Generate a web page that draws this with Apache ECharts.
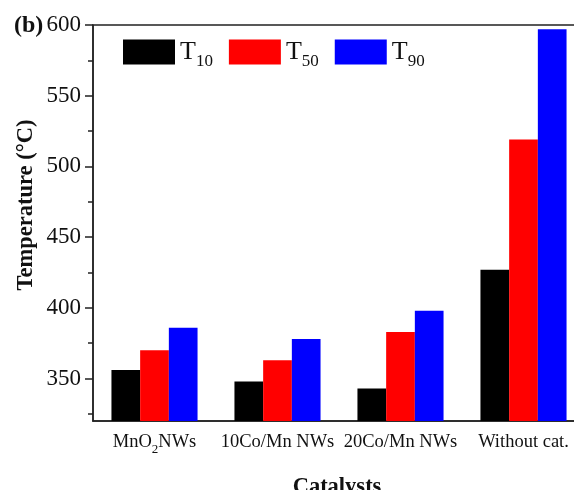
<!DOCTYPE html>
<html><head><meta charset="utf-8">
<script src="https://cdn.jsdelivr.net/npm/echarts@6/dist/echarts.min.js"></script>
<style>html,body{margin:0;padding:0;background:#fff}#c{width:574px;height:490px}</style>
</head><body><div id="c"></div>
<script>
const categories = ['MnO2NWs', '10Co/Mn NWs', '20Co/Mn NWs', 'Without cat.'];
const seriesNames = ['T10', 'T50', 'T90'];
const T10 = [356, 348, 343, 427];
const T50 = [370, 363, 383, 519];
const T90 = [386, 378, 398, 597];
const yLabelValues = [350, 400, 450, 500, 550, 600];
const yMinorValues = [325, 375, 425, 475, 525, 575];
const colors = ['#000000', '#ff0000', '#0000ff'];

const FONT = "'Liberation Serif','Times New Roman',serif";
const chart = echarts.init(document.getElementById('c'));
const seriesData = [T10, T50, T90];

chart.setOption({
  animation: false,
  textStyle: { fontFamily: FONT },
  grid: { left: 93, top: 25, width: 492, bottom: 69, outerBoundsMode: 'none', containLabel: false,
          show: true, borderColor: '#222', borderWidth: 1.5, backgroundColor: 'transparent' },
  legend: {
    left: 118, top: 34,
    itemWidth: 52, itemHeight: 25, itemGap: 16,
    icon: 'rect',
    data: seriesNames,
    formatter: function (n) { return '{t|T}{s|' + n.slice(1) + '}'; },
    textStyle: {
      fontFamily: FONT, color: '#111',
      rich: {
        t: { fontFamily: FONT, fontSize: 26, color: '#111', verticalAlign: 'bottom', padding: [5, 0, 5, 0] },
        s: { fontFamily: FONT, fontSize: 17, color: '#111', verticalAlign: 'bottom' }
      }
    }
  },
  xAxis: {
    type: 'category',
    data: categories,
    axisLine: { lineStyle: { color: '#222', width: 1.5 } },
    axisTick: { alignWithLabel: true, length: 7, lineStyle: { color: '#222', width: 1.5 } },
    axisLabel: {
      margin: 12, color: '#111', fontFamily: FONT, fontSize: 18.5, interval: 0,
      formatter: function (v) {
        if (v === 'MnO2NWs') return '{n|MnO}{s|2}{n|NWs}';
        return '{n|' + v + '}';
      },
      rich: {
        n: { fontFamily: FONT, fontSize: 18.5, color: '#111', verticalAlign: 'bottom', padding: [0, 0, 4, 0] },
        s: { fontFamily: FONT, fontSize: 13, color: '#111', verticalAlign: 'bottom' }
      }
    }
  },
  yAxis: [{
    type: 'value', min: 320, max: 600,
    splitLine: { show: false },
    axisLine: { show: true, lineStyle: { color: '#222', width: 1.5 } },
    axisTick: { show: true, length: 8, customValues: yLabelValues, lineStyle: { color: '#222', width: 1.5 } },
    axisLabel: { customValues: yLabelValues, margin: 12, color: '#111', fontFamily: FONT, fontSize: 23 }
  }, {
    type: 'value', min: 320, max: 600, position: 'left',
    splitLine: { show: false },
    axisLine: { show: false },
    axisTick: { show: true, length: 5, customValues: yMinorValues, lineStyle: { color: '#222', width: 1.5 } },
    axisLabel: { show: false }
  }],
  series: seriesNames.map(function (name, i) {
    return {
      name: name, type: 'bar', yAxisIndex: 0,
      data: seriesData[i],
      barWidth: 28.7, barGap: '0%', barCategoryGap: '30%',
      itemStyle: { color: colors[i] }
    };
  }),
  graphic: [
    { type: 'text', left: 14, top: 14, style: { text: '(b)', font: "bold 24px " + FONT, fill: '#111' } },
    { type: 'text', x: 26, y: 205, rotation: Math.PI / 2,
      style: { text: 'Temperature (°C)', font: "bold 22.5px " + FONT, fill: '#111', align: 'center', verticalAlign: 'middle' } },
    { type: 'text', x: 337, y: 487,
      style: { text: 'Catalysts', font: "bold 22.5px " + FONT, fill: '#111', align: 'center', verticalAlign: 'middle' } }
  ]
});
</script>
</body></html>
